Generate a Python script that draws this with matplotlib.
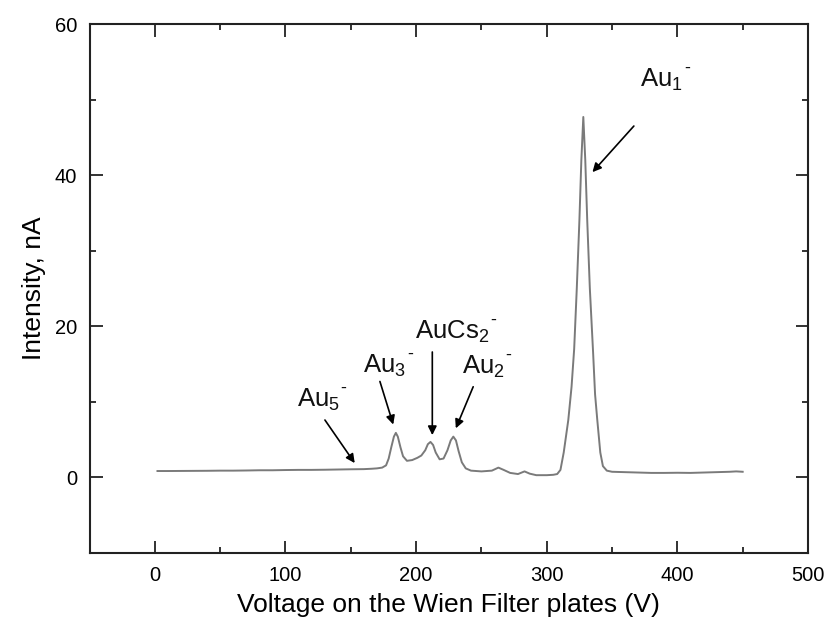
import matplotlib
matplotlib.use("Agg")
import matplotlib.pyplot as plt
from matplotlib.ticker import MultipleLocator

plt.rcParams['font.family'] = ['Liberation Sans', 'DejaVu Sans']
plt.rcParams['mathtext.fontset'] = 'custom'
plt.rcParams['mathtext.rm'] = 'Liberation Sans'

# spectrum: voltage (V) and intensity (nA)
voltage = [2, 10, 20, 30, 40, 50, 60, 70, 80, 90, 100, 110, 120, 130, 140, 150,
           160, 166, 170, 174, 177, 179, 181, 183, 184.5, 186, 188, 190, 193,
           197, 201, 204, 207, 209, 211, 213, 215, 218, 221, 224, 226.5, 228.5,
           230.5, 232.5, 235, 238, 242, 250, 258, 263, 267, 272, 278, 283, 287,
           292, 300, 305, 308, 310.5, 313, 316.5, 319, 321, 323, 325, 326.5,
           328, 329.5, 331, 333, 335.5, 337, 338.7, 341, 343, 346, 350, 360,
           370, 380, 390, 400, 410, 420, 430, 440, 445, 450]
intensity = [0.85, 0.85, 0.86, 0.87, 0.88, 0.9, 0.9, 0.92, 0.95, 0.95, 0.98,
             1.0, 1.0, 1.02, 1.05, 1.08, 1.1, 1.15, 1.2, 1.3, 1.6, 2.5, 4.0,
             5.4, 5.9, 5.4, 4.0, 2.8, 2.2, 2.3, 2.6, 2.9, 3.6, 4.4, 4.7, 4.3,
             3.3, 2.4, 2.5, 3.6, 4.9, 5.4, 4.9, 3.5, 2.0, 1.2, 0.9, 0.8, 0.9,
             1.3, 1.0, 0.6, 0.45, 0.8, 0.5, 0.3, 0.3, 0.35, 0.45, 1.0, 3.3,
             7.6, 12, 17, 25, 34, 42, 47.7, 42, 34, 25, 16.5, 11, 7.6, 3.3,
             1.5, 0.9, 0.75, 0.7, 0.65, 0.6, 0.6, 0.62, 0.6, 0.65, 0.7, 0.75,
             0.8, 0.75]

# peak labels: text, label corner, arrow start, arrow tip
labels = [r'Au$\mathregular{_5}$', r'Au$\mathregular{_3}$', r'AuCs$\mathregular{_2}$',
          r'Au$\mathregular{_2}$', r'Au$\mathregular{_1}$']
label_xy = [(108.5, 9.4), (159.3, 13.8), (199, 18.4), (234.8, 13.7), (371.4, 51.7)]
arrow_from = [(130.2, 7.6), (172.3, 12.7), (212.4, 16.6), (243.7, 12.0), (366.7, 46.5)]
arrow_to = [(153, 1.9), (182.5, 7.0), (212.4, 5.6), (230.4, 6.5), (335, 40.4)]

fig = plt.figure(figsize=(8.26, 6.19), dpi=100)
ax = fig.add_axes([0.1084, 0.1066, 0.8698, 0.8546])

ax.plot(voltage, intensity, color='#7a7a7a', lw=1.4)

for txt, xy in zip(labels, label_xy):
    t = ax.text(xy[0], xy[1], txt, fontsize=18.5, ha='left', va='baseline', color='#111111')
    # the small minus sign sits high, just right of the subscript
    ax.annotate('-', xy=(1.0, xy[1]), xycoords=(t, 'data'),
                xytext=(1, 14), textcoords='offset pixels',
                fontsize=13, ha='left', va='baseline', color='#111111')
for a, b in zip(arrow_from, arrow_to):
    ax.annotate('', xy=b, xytext=a,
                arrowprops=dict(arrowstyle='-|>', color='black', lw=1.2,
                                mutation_scale=13, shrinkA=0, shrinkB=0))

ax.set_xlim(-50, 500)
ax.set_ylim(-10, 60)
ax.xaxis.set_major_locator(MultipleLocator(100))
ax.xaxis.set_minor_locator(MultipleLocator(50))
ax.yaxis.set_major_locator(MultipleLocator(20))
ax.yaxis.set_minor_locator(MultipleLocator(10))
ax.tick_params(which='both', direction='in', top=True, right=True, width=1.3, color='#222222')
ax.tick_params(which='major', length=9, labelsize=14.5, pad=9)
ax.tick_params(which='minor', length=4.5)
for s in ax.spines.values():
    s.set_linewidth(1.5)
    s.set_color('#222222')

ax.set_xlabel('Voltage on the Wien Filter plates (V)', fontsize=19, labelpad=6)
ax.set_ylabel('Intensity, nA', fontsize=19, labelpad=6)

fig.savefig('out.png', dpi=100)
